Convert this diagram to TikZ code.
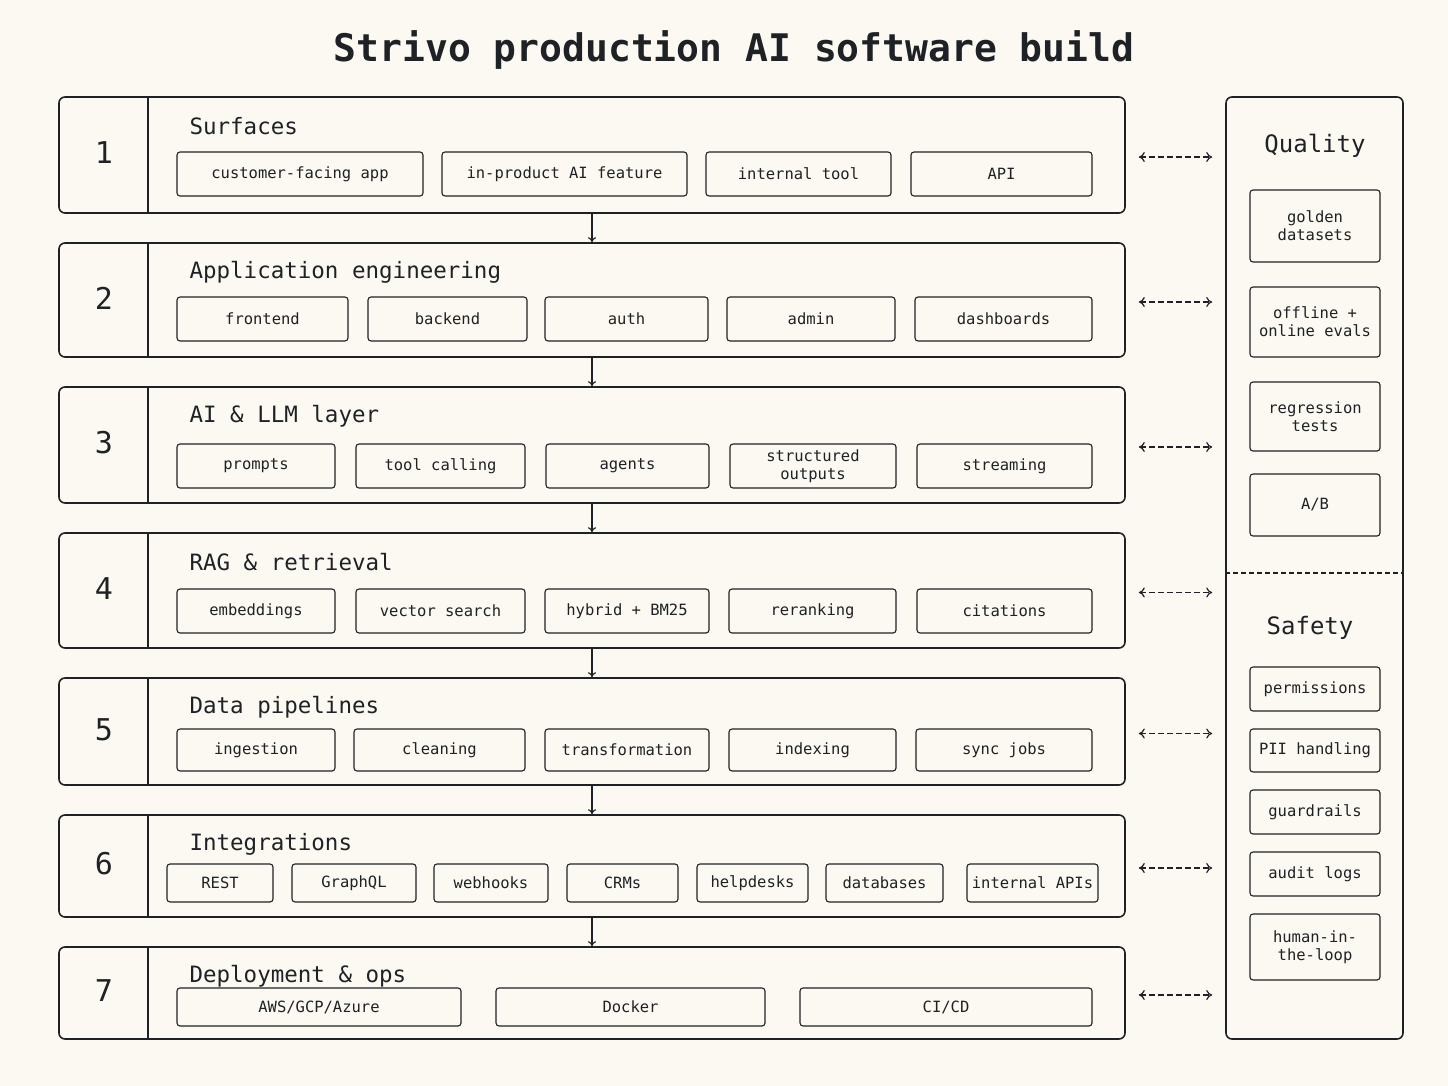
\documentclass[tikz,border=0pt]{standalone}
\usepackage{fontspec}
\setmainfont{DejaVu Sans Mono}
\usetikzlibrary{arrows.meta}
\definecolor{ink}{HTML}{1E2226}
\definecolor{paper}{HTML}{FBF9F1}
\tikzset{
  layer/.style={draw=ink, line width=1.6pt, rounded corners=6pt, minimum width=1066pt, inner sep=0pt},
  item/.style={draw=ink, line width=1.1pt, rounded corners=3pt, inner sep=0pt, align=center, font=\fontsize{15.5}{18}\selectfont, text=ink},
  ltitle/.style={anchor=west, font=\fontsize{22.5}{24}\selectfont, text=ink},
  lnum/.style={font=\fontsize{30}{32}\selectfont, text=ink},
  arr/.style={draw=ink, line width=1.2pt, -{To[length=5pt,width=8pt]}},
  dasharr/.style={draw=ink, line width=1.2pt, dash pattern=on 6pt off 3pt, {To[length=6pt,width=10pt]}-{To[length=6pt,width=10pt]}}
}
\begin{document}
\begin{tikzpicture}[x=1pt,y=-1pt]
\fill[paper] (0,0) rectangle (1448,1086);
\useasboundingbox (0,0) rectangle (1448,1086);

% title
\node[font=\bfseries\fontsize{38}{40}\selectfont, text=ink] (title) at (734,50) {Strivo production AI software build};

% layers: number / top / bottom / title
\foreach \n/\t/\b/\name in {1/97/213/Surfaces, 2/243/357/Application engineering, 3/387/503/AI \& LLM layer, 4/533/648/RAG \& retrieval, 5/678/785/Data pipelines, 6/815/917/Integrations, 7/947/1039/Deployment \& ops}{
  \node[layer, minimum height={(\b-\t)*1pt}] (L\n) at (592,{(\t+\b)/2}) {};
  \draw[ink, line width=1.6pt] (148,\t) -- (148,\b);
  \node[lnum] (N\n) at (104,{(\t+\b)/2-2}) {\n};
  \node[ltitle] (T\n) at (186,{\t+29}) {\name};
}

% items
\foreach \a/\b/\t [count=\i] in {177/423/customer-facing app, 442/687/in-product AI feature, 706/891/internal tool, 911/1092/API}
  \node[item, minimum width={(\b-\a)*1pt}, minimum height=44pt] (r1\i) at ({(\a+\b)/2},174) {\t};
\foreach \a/\b/\t [count=\i] in {177/348/frontend, 368/527/backend, 545/708/auth, 727/895/admin, 915/1092/dashboards}
  \node[item, minimum width={(\b-\a)*1pt}, minimum height=44pt] (r2\i) at ({(\a+\b)/2},319) {\t};
\foreach \a/\b/\t [count=\i] in {177/335/prompts, 356/525/tool calling, 546/709/agents, 730/896/{structured\\outputs}, 917/1092/streaming}
  \node[item, minimum width={(\b-\a)*1pt}, minimum height=44pt] (r3\i) at ({(\a+\b)/2},466) {\t};
\foreach \a/\b/\t [count=\i] in {177/335/embeddings, 356/525/vector search, 545/709/hybrid + BM25, 729/896/reranking, 917/1092/citations}
  \node[item, minimum width={(\b-\a)*1pt}, minimum height=44pt] (r4\i) at ({(\a+\b)/2},611) {\t};
\foreach \a/\b/\t [count=\i] in {177/335/ingestion, 354/525/cleaning, 545/709/transformation, 729/896/indexing, 916/1092/sync jobs}
  \node[item, minimum width={(\b-\a)*1pt}, minimum height=42pt] (r5\i) at ({(\a+\b)/2},750) {\t};
\foreach \a/\b/\t [count=\i] in {167/273/REST, 292/416/GraphQL, 434/548/webhooks, 567/678/CRMs, 697/808/helpdesks, 826/943/databases, 967/1098/internal APIs}
  \node[item, minimum width={(\b-\a)*1pt}, minimum height=38pt] (r6\i) at ({(\a+\b)/2},883) {\t};
\foreach \a/\b/\t [count=\i] in {177/461/{AWS/GCP/Azure}, 496/765/Docker, 800/1092/{CI/CD}}
  \node[item, minimum width={(\b-\a)*1pt}, minimum height=38pt] (r7\i) at ({(\a+\b)/2},1007) {\t};

% flow between layers
\foreach \i [evaluate=\i as \j using int(\i+1)] in {1,...,6}
  \draw[arr] (L\i.south) -- (L\j.north);

% quality and safety panel
\node[layer, minimum width=177pt, minimum height=942pt] (panel) at (1314.5,568) {};
\draw[ink, line width=1.2pt, dash pattern=on 5pt off 3pt] (panel.west |- 0,573) -- (panel.east |- 0,573);
\node[font=\fontsize{24}{26}\selectfont, text=ink] (quality) at (1315,146) {Quality};
\node[font=\fontsize{24}{26}\selectfont, text=ink] (safety) at (1310,628) {Safety};
\foreach \t/\b/\txt [count=\i] in {190/262/{golden\\datasets}, 287/357/{offline +\\online evals}, 382/451/{regression\\tests}, 474/536/{A/B}}
  \node[item, minimum width=130pt, minimum height={(\b-\t)*1pt}] (q\i) at (1315,{(\t+\b)/2}) {\txt};
\foreach \t/\b/\txt [count=\i] in {667/711/permissions, 729/772/PII handling, 790/834/guardrails, 852/896/audit logs, 914/980/{human-in-\\the-loop}}
  \node[item, minimum width=130pt, minimum height={(\b-\t)*1pt}] (s\i) at (1315,{(\t+\b)/2}) {\txt};

% links to panel
\foreach \i in {1,...,7}
  \draw[dasharr] ([xshift=13pt,yshift=-2pt]L\i.east) -- ([xshift=-13pt,yshift=-2pt]L\i.east -| panel.west);
\end{tikzpicture}
\end{document}
